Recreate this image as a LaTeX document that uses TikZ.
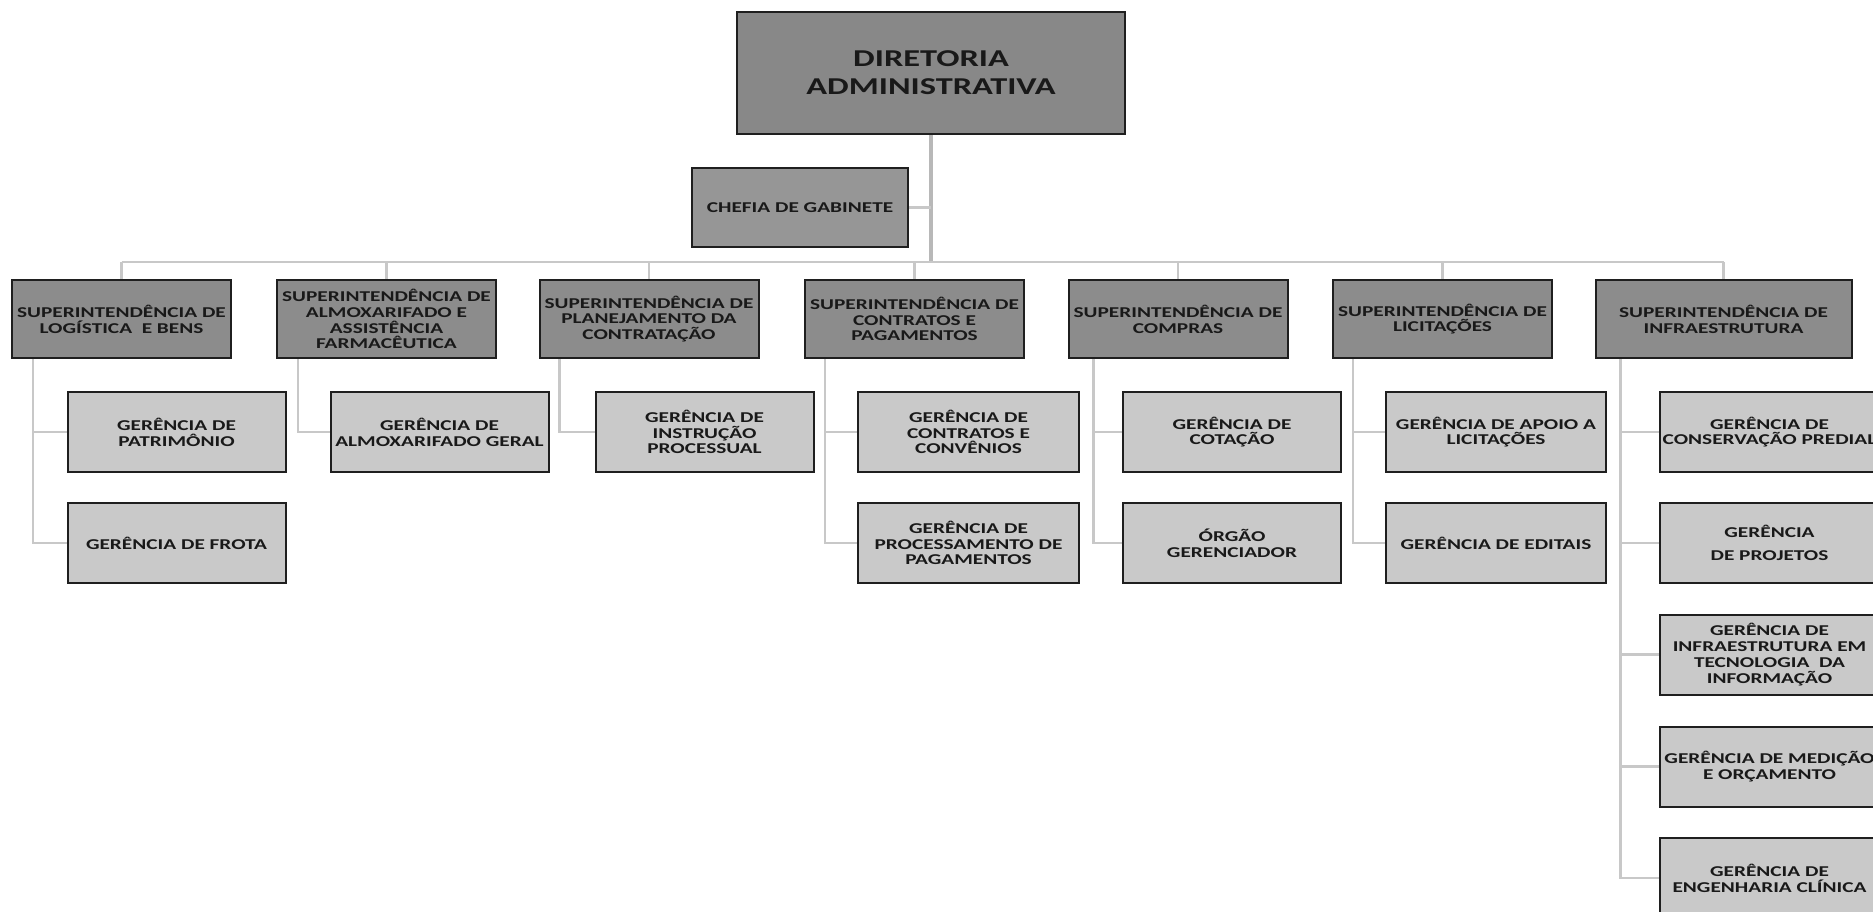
\documentclass[tikz,border=0pt]{standalone}
\usepackage{fontspec}
\newfontfamily\lblfont{Carlito}[FakeStretch=1.42]
\usetikzlibrary{backgrounds}
\definecolor{topgray}{HTML}{888888}
\definecolor{supgray}{HTML}{8C8C8C}
\definecolor{chefgray}{HTML}{969696}
\definecolor{gergray}{HTML}{C9C9C9}
\definecolor{lineg}{HTML}{C8C8C8}
\definecolor{trunkg}{HTML}{B8B8B8}
\tikzset{
  box/.style={draw=black!88, line width=2pt, inner sep=0pt, align=center, text=black!90,
    font=\lblfont\bfseries\fontsize{15}{15.8}\selectfont},
  topbox/.style={box, fill=topgray, minimum width=388pt, minimum height=122pt,
    font=\lblfont\bfseries\fontsize{24.2}{28}\selectfont},
  chefbox/.style={box, fill=chefgray, minimum width=216pt, minimum height=79pt},
  supbox/.style={box, fill=supgray, minimum width=219pt, minimum height=78pt},
  gerbox/.style={box, fill=gergray, minimum width=218pt, minimum height=80pt},
  conn/.style={draw=lineg, line width=2.5pt},
  trunk/.style={draw=trunkg, line width=3.5pt},
}
\begin{document}
\begin{tikzpicture}[x=1pt,y=-1pt]
\useasboundingbox (0,0) rectangle (1873,912);
% top
\node[topbox] (dir) at (931,73) {DIRETORIA\\ADMINISTRATIVA};
\node[chefbox] (chef) at (800,207.5) {CHEFIA DE GABINETE};
% superintendencias
\node[supbox] (s1) at (121.5,319) {SUPERINTENDÊNCIA DE\\LOGÍSTICA\ \ E BENS};
\node[supbox] (s2) at (386.5,319) {SUPERINTENDÊNCIA DE\\ALMOXARIFADO E\\ASSISTÊNCIA\\FARMACÊUTICA};
\node[supbox] (s3) at (649,319) {SUPERINTENDÊNCIA DE\\PLANEJAMENTO DA\\CONTRATAÇÃO};
\node[supbox] (s4) at (914.5,319) {SUPERINTENDÊNCIA DE\\CONTRATOS E\\PAGAMENTOS};
\node[supbox] (s5) at (1178,319) {SUPERINTENDÊNCIA DE\\COMPRAS};
\node[supbox] (s6) at (1442.5,319) {SUPERINTENDÊNCIA DE\\LICITAÇÕES};
\node[supbox, minimum width=256pt] (s7) at (1723.5,319) {SUPERINTENDÊNCIA DE\\INFRAESTRUTURA};
% gerencias
\node[gerbox] (g11) at (176.5,432) {GERÊNCIA DE\\PATRIMÔNIO};
\node[gerbox] (g12) at (176.5,543) {GERÊNCIA DE FROTA};
\node[gerbox] (g21) at (439.5,432) {GERÊNCIA DE\\ALMOXARIFADO GERAL};
\node[gerbox] (g31) at (704.5,432) {GERÊNCIA DE\\INSTRUÇÃO\\PROCESSUAL};
\node[gerbox, minimum width=221pt] (g41) at (968.5,432) {GERÊNCIA DE\\CONTRATOS E\\CONVÊNIOS};
\node[gerbox, minimum width=221pt] (g42) at (968.5,543) {GERÊNCIA DE\\PROCESSAMENTO DE\\PAGAMENTOS};
\node[gerbox] (g51) at (1232,432) {GERÊNCIA DE\\COTAÇÃO};
\node[gerbox] (g52) at (1232,543) {ÓRGÃO\\GERENCIADOR};
\node[gerbox, minimum width=220pt] (g61) at (1496,432) {GERÊNCIA DE APOIO A\\LICITAÇÕES};
\node[gerbox, minimum width=220pt] (g62) at (1496,543) {GERÊNCIA DE EDITAIS};
\node[gerbox, minimum width=219pt] (g71) at (1769.5,432) {GERÊNCIA DE\\CONSERVAÇÃO PREDIAL};
\node[gerbox, minimum width=219pt] (g72) at (1769.5,543) {GERÊNCIA\\[7pt]DE PROJETOS};
\node[gerbox, minimum width=219pt] (g73) at (1769.5,654.5) {GERÊNCIA DE\\INFRAESTRUTURA EM\\TECNOLOGIA\ \ DA\\INFORMAÇÃO};
\node[gerbox, minimum width=219pt] (g74) at (1769.5,766.5) {GERÊNCIA DE MEDIÇÃO\\E ORÇAMENTO};
\node[gerbox, minimum width=219pt] (g75) at (1769.5,878) {GERÊNCIA DE\\ENGENHARIA CLÍNICA};
% connectors
\begin{scope}[on background layer]
\fill[white] (0,0) rectangle (1873,912);
\coordinate (bus) at (931,262);
\draw[trunk] (dir.south) -- (dir.south |- bus);
\draw[conn] (chef.east) -- (chef.east -| dir.south);
\draw[conn] (s1.north |- bus) -- (s7.north |- bus);
\foreach \i in {1,...,7} \draw[conn] (s\i.north) -- (s\i.north |- bus);
\coordinate (v1) at ([xshift=22pt]s1.south west);
\coordinate (v2) at ([xshift=22pt]s2.south west);
\coordinate (v3) at ([xshift=21pt]s3.south west);
\coordinate (v4) at ([xshift=21pt]s4.south west);
\coordinate (v5) at ([xshift=26pt]s5.south west);
\coordinate (v6) at ([xshift=21pt]s6.south west);
\coordinate (v7) at ([xshift=26pt]s7.south west);
\draw[conn] (v1) |- (g12.west);
\draw[conn] (v1 |- g11.west) -- (g11.west);
\draw[conn] (v2) |- (g21.west);
\draw[conn] (v3) |- (g31.west);
\draw[conn] (v4) |- (g42.west);
\draw[conn] (v4 |- g41.west) -- (g41.west);
\draw[conn] (v5) |- (g52.west);
\draw[conn] (v5 |- g51.west) -- (g51.west);
\draw[conn] (v6) |- (g62.west);
\draw[conn] (v6 |- g61.west) -- (g61.west);
\draw[conn] (v7) |- (g75.west);
\foreach \j in {1,2,3,4} \draw[conn] (v7 |- g7\j.west) -- (g7\j.west);
\end{scope}
\end{tikzpicture}
\end{document}
